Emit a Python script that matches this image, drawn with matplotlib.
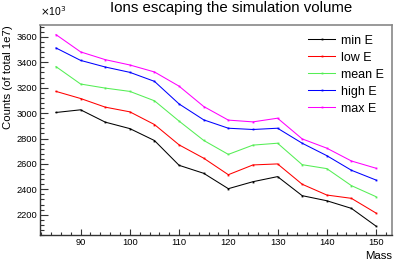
import matplotlib
matplotlib.use('Agg')
import matplotlib.pyplot as plt
from matplotlib.ticker import MultipleLocator

plt.rcParams['font.family'] = ['Liberation Sans', 'DejaVu Sans']

# counts in units of 10^3
mass = [85, 90, 95, 100, 105, 110, 115, 120, 125, 130, 135, 140, 145, 150]
min_e = [3005, 3026, 2929, 2878, 2784, 2589, 2526, 2405, 2460, 2500, 2350, 2310, 2250, 2110]
low_e = [3171, 3115, 3047, 3010, 2910, 2750, 2645, 2515, 2592, 2600, 2440, 2355, 2329, 2213]
mean_e = [3366, 3229, 3197, 3171, 3097, 2937, 2785, 2675, 2748, 2763, 2594, 2563, 2429, 2342]
high_e = [3513, 3415, 3363, 3321, 3250, 3072, 2947, 2881, 2871, 2881, 2763, 2665, 2550, 2473]
max_e = [3618, 3482, 3421, 3379, 3324, 3212, 3052, 2945, 2931, 2960, 2797, 2724, 2623, 2566]

series = [
    ('min E', min_e, 'black'),
    ('low E', low_e, '#ff0000'),
    ('mean E', mean_e, '#55ee55'),
    ('high E', high_e, '#0000ff'),
    ('max E', max_e, '#ff00ff'),
]

fig = plt.figure(figsize=(3.96, 2.6), dpi=100)
ax = fig.add_axes([0.101, 0.096, 0.889, 0.806])

for label, vals, col in series:
    ax.plot(mass, vals, color=col, lw=0.75, marker='s', ms=1.3, mew=0, label=label)

ax.set_xlim(81.75, 153.25)
ax.set_ylim(2040, 3690)

ax.xaxis.set_major_locator(MultipleLocator(10))
ax.xaxis.set_minor_locator(MultipleLocator(2))
ax.yaxis.set_major_locator(MultipleLocator(200))
ax.yaxis.set_minor_locator(MultipleLocator(40))
ax.tick_params(axis='both', which='both', direction='in', labelsize=6.7,
               top=False, right=False, width=0.8, color='#333333')
ax.tick_params(axis='x', which='major', length=4.3, pad=2)
ax.tick_params(axis='x', which='minor', length=2.2)
ax.tick_params(axis='y', which='major', length=5.8, pad=2)
ax.tick_params(axis='y', which='minor', length=2.9)

for s in ['top', 'right']:
    ax.spines[s].set_color('#888888')
    ax.spines[s].set_linewidth(1.2)
for s in ['left', 'bottom']:
    ax.spines[s].set_color('#333333')
    ax.spines[s].set_linewidth(1.0)

fig.text(0.583, 0.995, 'Ions escaping the simulation volume', ha='center', va='top', fontsize=10.8)
fig.text(0.101, 0.93, r'$\times$10$^3$', ha='left', va='bottom', fontsize=7.5)
ax.set_xlabel('Mass', fontsize=8.2, loc='right', labelpad=3)
ax.set_ylabel('Counts (of total 1e7)', fontsize=8.2, loc='top')
ax.yaxis.set_label_coords(-0.077, 1.0)

leg = ax.legend(loc='upper left', bbox_to_anchor=(0.761, 0.956), frameon=False,
                fontsize=9, handlelength=2.2, handletextpad=0.45, labelspacing=0.4,
                borderaxespad=0, borderpad=0)

fig.savefig('out.png', dpi=100)
